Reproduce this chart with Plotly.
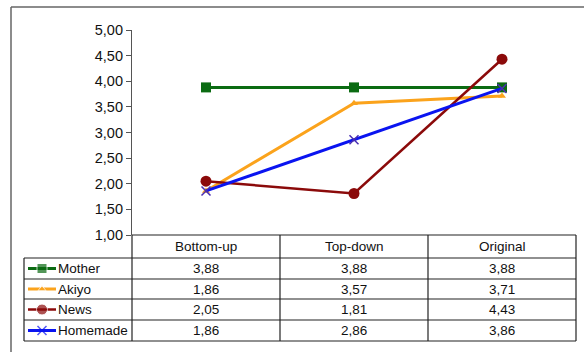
import plotly.graph_objects as go

categories = ["Bottom-up", "Top-down", "Original"]
series_names = ["Mother", "Akiyo", "News", "Homemade"]
mother = [3.88, 3.88, 3.88]
akiyo = [1.86, 3.57, 3.71]
news = [2.05, 1.81, 4.43]
homemade = [1.86, 2.86, 3.86]
y_tick_values = [1.0, 1.5, 2.0, 2.5, 3.0, 3.5, 4.0, 4.5, 5.0]

series_values = [mother, akiyo, news, homemade]
colors = ["#0b6b12", "#fba31c", "#8b0a0a", "#0a14f0"]
symbols = ["square", "triangle-up", "circle", "x-thin"]
msizes = [10, 7, 11, 9]
lwidths = [3, 3, 2.5, 3]

W, H = 584, 352
x_left, x_right = 132, 576
y_top, y_bot = 30, 235
table_left = 24
row_lines = [235, 258, 279, 299, 320, 341]
col_lines = [132, 280, 428, 576]

def px(x):
    return x / W

def py(y):
    return 1 - y / H

fig = go.Figure()

for name, vals, c, s, ms, lw in zip(series_names, series_values, colors, symbols, msizes, lwidths):
    marker = dict(symbol=s, size=ms, color=c)
    if s == "x-thin":
        marker["line"] = dict(color="#4a2fb0", width=1.5)
    fig.add_trace(go.Scatter(
        x=categories, y=vals, mode="lines+markers", name=name,
        line=dict(color=c, width=lw), marker=marker, showlegend=False,
        cliponaxis=False,
    ))

# legend samples in table via overlay pixel axis
for i, (name, c, s, ms, lw) in enumerate(zip(series_names, colors, symbols, msizes, lwidths)):
    yc = (row_lines[i + 1] + row_lines[i + 2]) / 2
    marker = dict(symbol=s, size=[0, ms, 0], color=c)
    if s == "x-thin":
        marker["line"] = dict(color=c, width=1.5)
    fig.add_trace(go.Scatter(
        x=[28, 42, 56], y=[yc, yc, yc], mode="lines+markers",
        line=dict(color=c, width=lw), marker=marker,
        xaxis="x2", yaxis="y2", showlegend=False, hoverinfo="skip",
    ))

shapes = []
line_col = "#222222"
for j, yl in enumerate(row_lines):
    x0 = x_left if j == 0 else table_left
    shapes.append(dict(type="line", xref="paper", yref="paper",
                       x0=px(x0), x1=px(x_right), y0=py(yl), y1=py(yl),
                       line=dict(color=line_col, width=1.2)))
for xl in col_lines:
    shapes.append(dict(type="line", xref="paper", yref="paper",
                       x0=px(xl), x1=px(xl), y0=py(row_lines[0]), y1=py(row_lines[-1]),
                       line=dict(color=line_col, width=1.2)))
shapes.append(dict(type="line", xref="paper", yref="paper",
                   x0=px(table_left), x1=px(table_left), y0=py(row_lines[1]), y1=py(row_lines[-1]),
                   line=dict(color=line_col, width=1.2)))
shapes.append(dict(type="line", xref="paper", yref="paper",
                   x0=px(11), x1=px(584), y0=py(7), y1=py(7),
                   line=dict(color="#666666", width=1.5)))
shapes.append(dict(type="line", xref="paper", yref="paper",
                   x0=px(11), x1=px(11), y0=py(7), y1=py(352),
                   line=dict(color="#666666", width=1.5)))

annotations = []
font = dict(family="Liberation Sans, Arial, sans-serif", size=13.5, color="#111111")
for k, cat in enumerate(categories):
    xc = (col_lines[k] + col_lines[k + 1]) / 2
    annotations.append(dict(x=px(xc), y=py((row_lines[0] + row_lines[1]) / 2),
                            xref="paper", yref="paper", text=cat, showarrow=False,
                            font=font, xanchor="center", yanchor="middle"))
    for i, vals in enumerate(series_values):
        yc = (row_lines[i + 1] + row_lines[i + 2]) / 2
        annotations.append(dict(x=px(xc), y=py(yc), xref="paper", yref="paper",
                                text=f"{vals[k]:.2f}".replace(".", ","), showarrow=False,
                                font=font, xanchor="center", yanchor="middle"))
for i, name in enumerate(series_names):
    yc = (row_lines[i + 1] + row_lines[i + 2]) / 2
    annotations.append(dict(x=px(56), y=py(yc), xref="paper", yref="paper",
                            text=name, showarrow=False, font=font,
                            xanchor="left", yanchor="middle"))

fig.update_layout(
    width=W, height=H,
    margin=dict(l=0, r=0, t=0, b=0, autoexpand=False),
    paper_bgcolor="white", plot_bgcolor="rgba(0,0,0,0)",
    font=font,
    xaxis=dict(domain=[px(x_left), px(x_right)], range=[-0.5, 2.5],
               showticklabels=False, showgrid=False, zeroline=False,
               showline=False, ticks="", automargin=False),
    yaxis=dict(domain=[py(y_bot), py(y_top)], range=[1, 5],
               tickvals=y_tick_values,
               ticktext=[f"{v:.2f}".replace(".", ",") for v in y_tick_values],
               showgrid=False, zeroline=False, showline=True, linecolor="#555555",
               linewidth=1.2, ticks="outside", ticklen=5, tickcolor="#555555",
               automargin=False,
               tickfont=dict(family="Liberation Sans, Arial, sans-serif", size=14.5, color="#111111")),
    xaxis2=dict(domain=[0, 1], range=[0, W], visible=False, fixedrange=True,
                anchor="y2", automargin=False),
    yaxis2=dict(domain=[0, 1], range=[H, 0], visible=False, fixedrange=True,
                anchor="x2", automargin=False),
    shapes=shapes,
    annotations=annotations,
)

fig.write_html("out.html")
